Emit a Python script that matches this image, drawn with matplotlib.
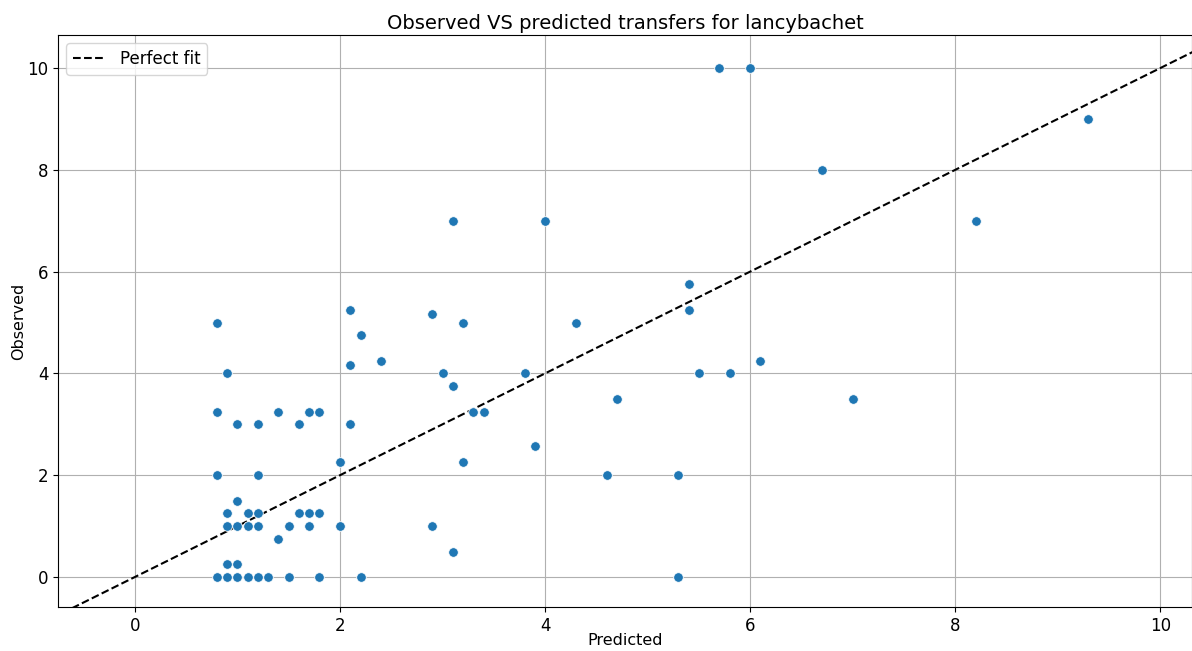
import numpy as np
import matplotlib
matplotlib.use('Agg')
import matplotlib.pyplot as plt

# Valori
predicted = [0.8, 0.9, 1.0, 1.1, 1.2, 1.3, 1.5, 1.8, 2.2, 5.3,
             0.9, 1.0,
             3.1,
             1.4,
             0.9, 1.0, 1.1, 1.2, 1.5, 1.7, 2.0, 2.9,
             0.9, 1.1, 1.2, 1.6, 1.7, 1.8,
             1.0,
             0.8, 1.2, 4.6, 5.3,
             2.0, 3.2,
             3.9,
             1.0, 1.2, 1.6, 2.1,
             0.8, 1.4, 1.7, 1.8, 3.3, 3.4,
             4.7, 7.0,
             3.1,
             0.9, 3.0, 3.8, 5.5, 5.8,
             2.1, 2.4, 6.1,
             2.2,
             0.8, 3.2, 4.3,
             2.9,
             2.1, 5.4,
             5.4,
             3.1, 4.0, 8.2,
             6.7,
             9.3,
             5.7, 6.0]
observed = [0, 0, 0, 0, 0, 0, 0, 0, 0, 0,
            0.25, 0.25,
            0.5,
            0.75,
            1, 1, 1, 1, 1, 1, 1, 1,
            1.25, 1.25, 1.25, 1.25, 1.25, 1.25,
            1.5,
            2, 2, 2, 2,
            2.25, 2.25,
            2.58,
            3, 3, 3, 3,
            3.25, 3.25, 3.25, 3.25, 3.25, 3.25,
            3.5, 3.5,
            3.75,
            4, 4, 4, 4, 4,
            4.17, 4.25, 4.25,
            4.75,
            5, 5, 5,
            5.17,
            5.25, 5.25,
            5.75,
            7, 7, 7,
            8,
            9,
            10, 10]

xlim = (-0.75, 10.31)
ylim = (-0.59, 10.65)

fig = plt.figure(figsize=(11.92, 6.51), dpi=100)
ax = fig.add_axes([0.0487, 0.0676, 0.9513, 0.8786])

ax.scatter(predicted, observed, s=48, color='#1f77b4', edgecolors='white', linewidths=0.6, zorder=3)

diag = np.array([-1, 11])
ax.plot(diag, diag, 'k--', label='Perfect fit', zorder=2)

ax.set_xlim(*xlim)
ax.set_ylim(*ylim)
ax.set_xticks(range(0, 11, 2))
ax.set_yticks(range(0, 11, 2))
ax.grid(True, color='#b0b0b0', linewidth=0.8)
ax.set_axisbelow(True)
ax.tick_params(labelsize=12)

ax.set_title('Observed VS predicted transfers for lancybachet', fontsize=14, pad=4)
ax.set_xlabel('Predicted', fontsize=11.5, labelpad=-1)
ax.set_ylabel('Observed', fontsize=11.5, labelpad=1)
ax.legend(loc='upper left', fontsize=12)

fig.savefig('out.png', dpi=100)
